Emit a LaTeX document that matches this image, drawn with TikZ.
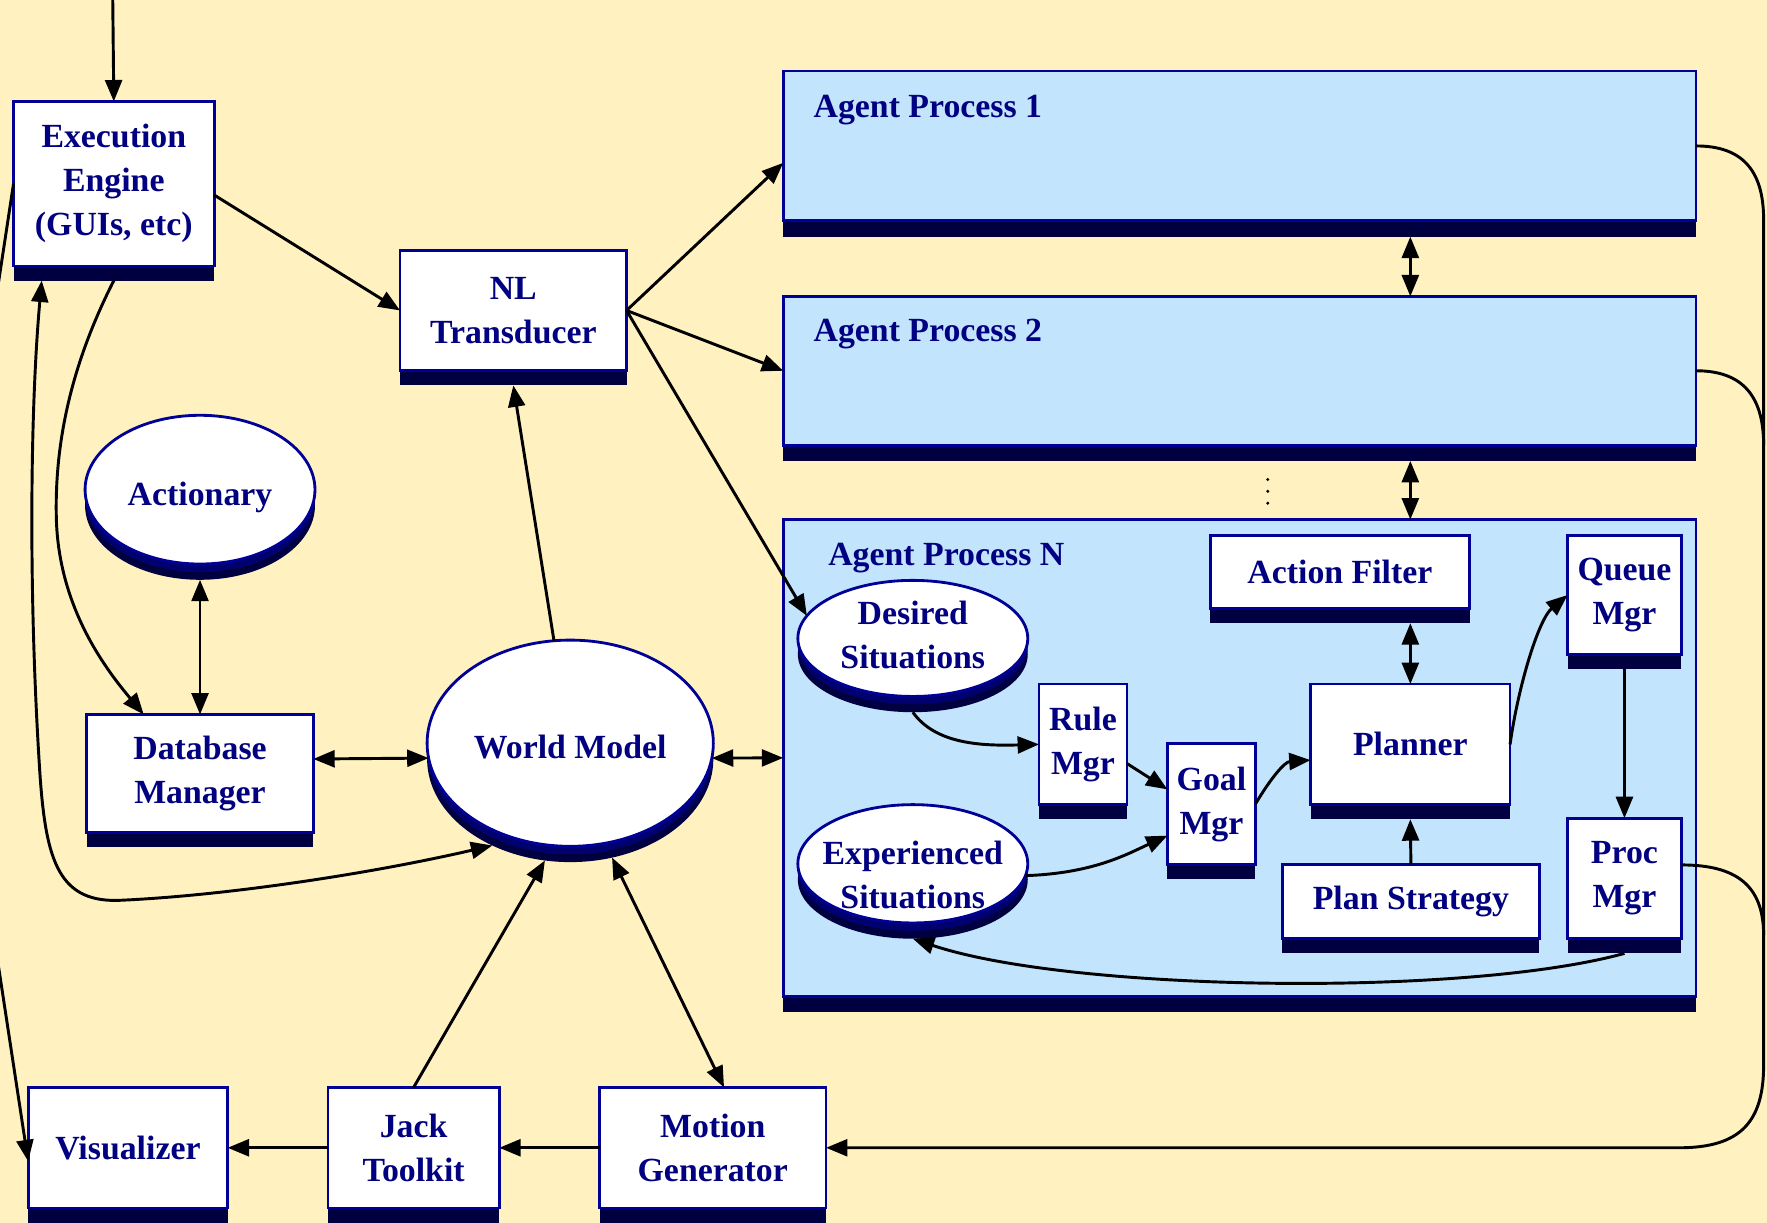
\documentclass[tikz,border=0pt]{standalone}
\usepackage{fontspec}
\setmainfont{Liberation Serif}
\usetikzlibrary{arrows.meta,shapes.geometric,shadows}

\definecolor{cream}{RGB}{255,242,192}
\definecolor{paleblue}{RGB}{194,228,252}
\definecolor{rim}{RGB}{0,0,150}
\definecolor{base}{RGB}{0,0,64}
\definecolor{band}{RGB}{0,0,110}
\definecolor{ink}{RGB}{0,0,128}

\begin{document}
\begin{tikzpicture}[x=1pt,y=-1pt,
  every node/.style={font=\fontsize{30}{39}\selectfont\bfseries, text=ink, inner sep=0pt, outer sep=0pt},
  module/.style={rectangle, draw=rim, line width=2.5pt, fill=white, align=center,
    general shadow={shadow yshift=-13pt, fill=base}},
  store/.style={ellipse, draw=rim, line width=2.5pt, fill=white,
    general shadow={shadow yshift=-14pt, fill=base},
    general shadow={shadow yshift=-7pt, fill=band}},
  process/.style={rectangle, draw=rim, line width=2.5pt, fill=paleblue,
    general shadow={shadow yshift=-14pt, fill=base}},
  tag/.style={anchor=west},
  tip/.tip={Triangle[length=19pt,width=15pt]},
  flow/.style={line width=2.6pt, -tip},
  both/.style={line width=2.6pt, tip-tip},
  link/.style={line width=2.6pt},
]
\fill[cream] (0,0) rectangle (1568,1085);
\useasboundingbox (0,0) rectangle (1568,1085);

% agent processes
\node[process, minimum width=810pt, minimum height=133pt] (ap1) at (1100,129.5) {};
\node[process, minimum width=810pt, minimum height=132pt] (ap2) at (1100,329) {};
\node[process, minimum width=810pt, minimum height=423pt] (apn) at (1100,672.5) {};
\node[tag] (ap1tag) at (722,98) {Agent Process 1};
\node[tag] (ap2tag) at (722,296) {Agent Process 2};
\node[tag] (apntag) at (735,495) {Agent Process N};

% left-hand modules
\node[module, minimum width=178pt, minimum height=146pt] (exec) at (101,163) {Execution\\Engine\\(GUIs, etc)};
\node[module, minimum width=201pt, minimum height=107pt] (nl) at (455.5,275.5) {NL\\Transducer};
\node[store, minimum width=204pt, minimum height=132pt,
  label={[yshift=-7pt]center:Actionary}] (actionary) at (177.5,434.5) {};
\node[module, minimum width=201pt, minimum height=105pt] (db) at (177.5,686.5) {Database\\Manager};
\node[store, minimum width=254pt, minimum height=183pt,
  label={[yshift=-3pt]center:World Model}] (wm) at (506,659.5) {};

% bottom row
\node[module, minimum width=177pt, minimum height=107pt] (vis) at (113.5,1018.5) {Visualizer};
\node[module, minimum width=152pt, minimum height=107pt] (jack) at (367,1018.5) {Jack\\Toolkit};
\node[module, minimum width=201pt, minimum height=107pt] (motion) at (632.5,1018.5) {Motion\\Generator};

% inside agent process N
\node[store, minimum width=204pt, minimum height=103pt,
  label={[align=center, yshift=3pt]center:Desired\\Situations}] (desired) at (810,566.5) {};
\node[store, minimum width=204pt, minimum height=105pt,
  label={[align=center, yshift=-10pt]center:Experienced\\Situations}] (experienced) at (810,766.5) {};
\node[module, minimum width=78pt, minimum height=107pt] (rule) at (961,660.5) {Rule\\Mgr};
\node[module, minimum width=78pt, minimum height=107pt] (goal) at (1075,713.5) {Goal\\Mgr};
\node[module, minimum width=230pt, minimum height=65pt] (filter) at (1189,507.5) {Action Filter};
\node[module, minimum width=177pt, minimum height=107pt] (planner) at (1251.5,660.5) {Planner};
\node[module, minimum width=228pt, minimum height=66pt] (strategy) at (1252,800) {Plan Strategy};
\node[module, minimum width=101pt, minimum height=106pt] (queue) at (1441.5,528) {Queue\\Mgr};
\node[module, minimum width=101pt, minimum height=107pt] (proc) at (1441.5,779.5) {Proc\\Mgr};

% ellipsis between agent processes
\coordinate (gap) at (1125,436);
\foreach \dy in {-10.5,0,10.5} \fill ([yshift=\dy pt]gap) circle (1.5pt);

% free ends running off the sheet
\coordinate (feed) at (100,-5);
\coordinate (offtop) at (-3.5,265);
\coordinate (offbot) at (-4,840);

% connectors
\draw[flow] (feed) -- (exec.north);
\draw[link] (offtop) -- (exec.west);
\draw[flow] (offbot) -- ([yshift=-12pt]vis.west);
\draw[flow] ([yshift=-10pt]exec.east) -- (nl.west);
\draw[flow] (nl.east) -- ([yshift=-15pt]ap1.west);
\draw[flow] (nl.east) -- (ap2.west);
\draw[flow] (nl.east) -- (desired.168);
\draw[flow] (wm.99) -- ([yshift=-13pt]nl.south);
\draw[both] ([yshift=-14pt]actionary.south) -- (db.north);
\draw[flow] ([yshift=-13pt]exec.south) .. controls (70,310) and (48,380) .. (50,460)
  .. controls (52,540) and (95,595) .. ([xshift=-50pt]db.north);
\draw[both] ([xshift=25pt,yshift=-13pt]exec.south west) .. controls (27,360) and (25,520) .. (35,680)
  .. controls (40,760) and (50,800) .. (104,799)
  .. controls (200,795) and (330,775) .. ([yshift=-14pt]wm.228);
\draw[both] ([yshift=13pt]db.east) -- (wm.186);
\draw[both] (wm.354) -- (apn.west);
\draw[flow] (jack.north) -- ([yshift=-14pt]wm.256);
\draw[both] ([yshift=-14pt]wm.293) -- ([xshift=10pt]motion.north);
\draw[flow] (motion.west) -- (jack.east);
\draw[flow] (jack.west) -- (vis.east);

\draw[both] ([yshift=-14pt]ap1.south -| planner.north) -- (ap2.north -| planner.north);
\draw[both] ([yshift=-14pt]ap2.south -| planner.north) -- (apn.north -| planner.north);

% return bus on the right
\draw[flow] (ap1.east) .. controls (1545,129.5) and (1565,150) .. (1565,195) -- (1565,945)
  .. controls (1565,995) and (1545,1018.5) .. (1490,1018.5) -- (motion.east);
\draw[link] (ap2.east) .. controls (1545,329) and (1565,350) .. (1565,395);
\draw[link] ([yshift=12pt]proc.east) .. controls (1540,767.5) and (1565,785) .. (1565,830);

% inside agent process N
\draw[flow] ([yshift=-14pt]desired.south) .. controls (830,660) and (870,662) .. (rule.west);
\draw[flow] ([yshift=-17pt]rule.east) -- ([yshift=13pt]goal.west);
\draw[flow] (experienced.354) .. controls (970,775) and (1000,758) .. ([yshift=-28pt]goal.west);
\draw[flow] (goal.east) .. controls (1128,690) and (1140,676) .. ([yshift=-14pt]planner.west);
\draw[both] ([yshift=-13pt]filter.south -| planner.north) -- (planner.north);
\draw[flow] (strategy.north) -- ([yshift=-13pt]planner.south);
\draw[flow] (planner.east) .. controls (1347,610) and (1365,550) .. (queue.west);
\draw[flow] ([yshift=-13pt]queue.south) -- (proc.north);
\draw[flow] ([yshift=-13pt]proc.south) .. controls (1300,885) and (950,880) .. ([yshift=-14pt]experienced.south);
\end{tikzpicture}
\end{document}
